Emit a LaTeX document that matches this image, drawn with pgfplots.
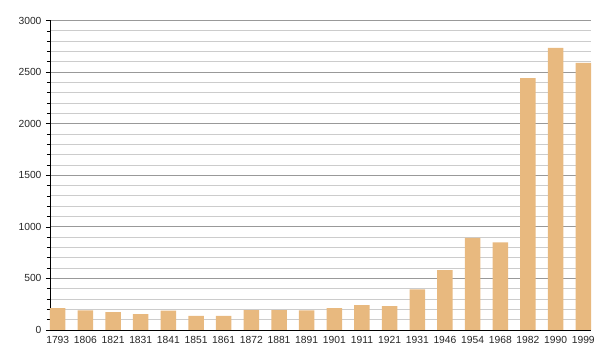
\documentclass[border=0pt]{standalone}
\usepackage{fontspec}
\setmainfont{Liberation Sans}
\usepackage{pgfplots}
\pgfplotsset{compat=1.18}
\definecolor{barc}{HTML}{E8B97F}
\definecolor{majg}{HTML}{999999}
\definecolor{ming}{HTML}{CCCCCC}
\begin{document}
\begin{tikzpicture}
\begin{axis}[
  scale only axis,
  width=541pt, height=309.5pt,
  xmin=-0.28, xmax=19.28,
  ymin=0, ymax=3000,
  axis x line*=bottom, axis y line*=left,
  axis line style={black, line width=0.8pt, -},
  ytick={0,500,...,3000},
  minor y tick num=4,
  ymajorgrids, yminorgrids,
  major grid style={majg, line width=0.8pt},
  minor grid style={ming, line width=0.8pt},
  y tick style={black, line width=0.6pt},
  minor y tick style={black, line width=0.6pt},
  tick align=outside,
  major tick length=4pt, minor tick length=3pt,
  xtick=data,
  x tick style={draw=none},
  xticklabels={1793,1806,1821,1831,1841,1851,1861,1872,1881,1891,1901,1911,1921,1931,1946,1954,1968,1982,1990,1999},
  ticklabel style={font=\fontsize{10.3}{12}\selectfont, text=black!85},
  /pgf/number format/assume math mode=true,
  /pgf/number format/1000 sep={},
  yticklabel style={xshift=-1pt},
  xticklabel style={yshift=1pt},
  scaled y ticks=false,
  clip=false,
]
\addplot[ybar, bar width=15.5pt, fill=barc, draw=none, bar shift=0pt] coordinates {
(0,212) (1,190) (2,174) (3,155) (4,187) (5,138) (6,138) (7,193) (8,193) (9,190)
(10,212) (11,242) (12,232) (13,393) (14,580) (15,892) (16,850) (17,2442) (18,2734) (19,2589)
};
\end{axis}
\path ([xshift=-50pt,yshift=-30pt]current axis.south west) rectangle ([xshift=9pt,yshift=20.5pt]current axis.north east);
\end{tikzpicture}
\end{document}
